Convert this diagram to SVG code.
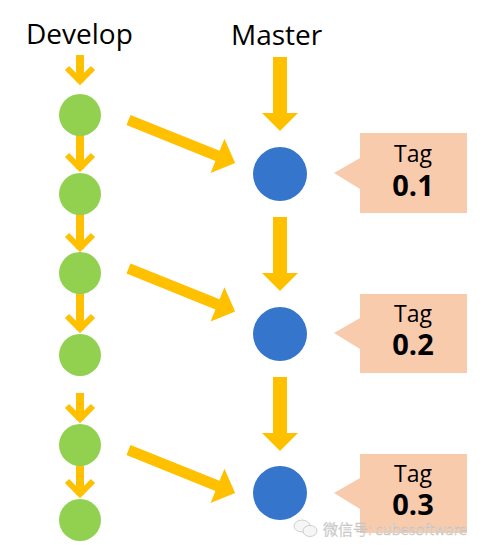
<svg xmlns="http://www.w3.org/2000/svg" xmlns:xlink="http://www.w3.org/1999/xlink" width="500" height="553" viewBox="0 0 500 553">
<style>
.label{font-family:"Open Sans","Noto Sans","Liberation Sans",sans-serif;font-size:28px;fill:#000}
.tagt{font-family:"Open Sans","Noto Sans","Liberation Sans",sans-serif;font-size:23px;fill:#000;text-anchor:middle}
.tagn{font-family:"Open Sans","Noto Sans","Liberation Sans",sans-serif;font-size:29px;font-weight:bold;fill:#000;text-anchor:middle}
.dev{fill:#92D050}
.mas{fill:#3575CB}
.tag{fill:#F8CBAD}
.shaft{stroke:#FFC000;stroke-width:8;fill:none}
.chev{stroke:#FFC000;stroke-width:6;fill:none;stroke-linejoin:miter;stroke-miterlimit:10}
.arr{fill:#FFC000}
.wm{font-family:"Noto Sans CJK SC","Open Sans",sans-serif;font-size:15px;font-weight:300;fill:#f6f6f6;stroke:#bdbdbd;stroke-width:0.45}
</style>
<defs>
<path id="chevron" class="chev" d="M-13,-17 L0,-4 L13,-17"/>
<polygon id="diag" class="arr" points="0,-5.5 96,-5.5 96,-18.5 115,0 96,18.5 96,5.5 0,5.5"/>
<polygon id="vert" class="arr" points="-7,0 7,0 7,56 18,56 0,74 -18,56 -7,56"/>
</defs>

<text class="label" x="26" y="44">Develop</text>
<text class="label" x="231" y="45">Master</text>

<g id="connectors">
  <line class="shaft" x1="80" y1="55" x2="80" y2="82"/><use xlink:href="#chevron" transform="translate(80,85)"/>
  <line class="shaft" x1="80" y1="134" x2="80" y2="169"/><use xlink:href="#chevron" transform="translate(80,172)"/>
  <line class="shaft" x1="80" y1="213" x2="80" y2="249"/><use xlink:href="#chevron" transform="translate(80,252)"/>
  <line class="shaft" x1="80" y1="292" x2="80" y2="330"/><use xlink:href="#chevron" transform="translate(80,333)"/>
  <line class="shaft" x1="80" y1="393" x2="80" y2="420"/><use xlink:href="#chevron" transform="translate(80,423)"/>
  <line class="shaft" x1="80" y1="464" x2="80" y2="495"/><use xlink:href="#chevron" transform="translate(80,498)"/>
  <use xlink:href="#diag" transform="translate(128.5,120) rotate(22)"/>
  <use xlink:href="#diag" transform="translate(128.5,268.5) rotate(22)"/>
  <use xlink:href="#diag" transform="translate(128.5,450) rotate(22)"/>
  <use xlink:href="#vert" transform="translate(280,57)"/>
  <use xlink:href="#vert" transform="translate(280,217)"/>
  <use xlink:href="#vert" transform="translate(280,377)"/>
</g>

<g id="dev1"><circle class="dev" cx="80" cy="115" r="21"/></g>
<g id="dev2"><circle class="dev" cx="80" cy="194" r="21"/></g>
<g id="dev3"><circle class="dev" cx="80" cy="273" r="21"/></g>
<g id="dev4"><circle class="dev" cx="80" cy="355" r="21"/></g>
<g id="dev5"><circle class="dev" cx="80" cy="445" r="21"/></g>
<g id="dev6"><circle class="dev" cx="80" cy="520" r="21"/></g>

<g id="master1"><circle class="mas" cx="280" cy="174" r="27"/></g>
<g id="master2"><circle class="mas" cx="280" cy="334" r="27"/></g>
<g id="master3"><circle class="mas" cx="280" cy="493" r="27"/></g>

<g id="tag1">
  <polygon class="tag" points="360,133 467,133 467,213 360,213 360,189 334,173 360,158"/>
  <text class="tagt" x="413" y="162">Tag</text>
  <text class="tagn" x="413" y="196">0.1</text>
</g>
<g id="tag2">
  <polygon class="tag" points="360,294 467,294 467,373 360,373 360,349 334,333 360,318"/>
  <text class="tagt" x="413" y="322">Tag</text>
  <text class="tagn" x="413" y="355">0.2</text>
</g>
<g id="tag3">
  <polygon class="tag" points="360,454 467,454 467,533 360,533 360,509 334,493 360,478"/>
  <text class="tagt" x="413" y="482">Tag</text>
  <text class="tagn" x="413" y="515">0.3</text>
</g>

<g id="watermark">
  <ellipse cx="302" cy="526" rx="8" ry="6" fill="#f6f6f6" stroke="#bdbdbd" stroke-width="0.7"/>
  <ellipse cx="310" cy="531" rx="7" ry="5.5" fill="#f6f6f6" stroke="#bdbdbd" stroke-width="0.7"/>
  <text class="wm" x="323" y="535">微信号: cubesoftware</text>
</g>
</svg>
